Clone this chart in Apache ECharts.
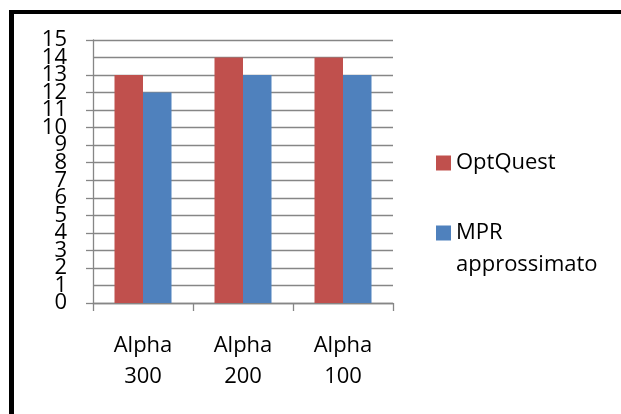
<!DOCTYPE html>
<html>
<head>
<meta charset="utf-8">
<script src="https://cdn.jsdelivr.net/npm/echarts@6/dist/echarts.min.js"></script>
<style>
  html, body { margin: 0; padding: 0; background: #fff; }
  #chart { position: absolute; left: 0; top: 0; width: 621px; height: 414px; }
  #frame { position: absolute; left: 9px; top: 10px; right: 0; bottom: 0;
           border-left: 5px solid #000; border-top: 4px solid #000; pointer-events: none; }
</style>
</head>
<body>
<div id="chart"></div>
<div id="frame"></div>
<script>
const categories = ['Alpha\n300', 'Alpha\n200', 'Alpha\n100'];
const optQuest = [13, 14, 14];
const mprApprossimato = [12, 13, 13];
const seriesNames = ['OptQuest', 'MPR approssimato'];
const yMin = 0, yMax = 15, yStep = 1;

const FONT = '"Open Sans", sans-serif';
const grey = '#868686';
const labelStyle = { fontFamily: FONT, fontSize: 22, color: '#000', margin: 26, lineHeight: 14, hideOverlap: false };

const chart = echarts.init(document.getElementById('chart'));
chart.setOption({
  animation: false,
  backgroundColor: '#fff',
  grid: { left: 93, top: 40, width: 300, height: 263, containLabel: false },
  legend: [
    {
      data: [seriesNames[0]],
      orient: 'vertical', left: 436, top: 152, padding: 0,
      itemWidth: 15, itemHeight: 15, itemGap: 0,
      icon: 'rect',
      textStyle: { fontFamily: FONT, fontSize: 22, color: '#000', lineHeight: 15 }
    },
    {
      data: [seriesNames[1]],
      orient: 'vertical', left: 436, top: 185, padding: 0,
      itemWidth: 15, itemHeight: 15, itemGap: 0,
      icon: 'rect',
      formatter: n => ' \n' + n.replace(' ', '\n'),
      textStyle: { fontFamily: FONT, fontSize: 22, color: '#000', lineHeight: 32 }
    }
  ],
  xAxis: {
    type: 'category',
    data: categories,
    axisLine: { lineStyle: { color: grey, width: 1.3 } },
    axisTick: { show: true, length: 8, lineStyle: { color: grey, width: 1.3 } },
    axisLabel: { fontFamily: FONT, fontSize: 22, color: '#000', lineHeight: 31, margin: 27, interval: 0 }
  },
  yAxis: [
    {
      type: 'value', min: yMin, max: yMax, interval: yStep, position: 'left',
      axisLine: { show: true, lineStyle: { color: grey, width: 1.3 } },
      axisTick: { show: true, length: 7, lineStyle: { color: grey, width: 1.3 } },
      splitLine: { show: true, lineStyle: { color: grey, width: 1.3 } },
      axisLabel: Object.assign({}, labelStyle, { showMinLabel: true, showMaxLabel: true })
    },
    {
      // companion axis: same scale, only re-draws the labels next to min/max
      type: 'value', min: yMin, max: yMax, interval: yStep, position: 'left', offset: 0,
      axisLine: { show: false }, axisTick: { show: false }, splitLine: { show: false },
      axisLabel: Object.assign({}, labelStyle, {
        formatter: v => (v === yMin + yStep || v === yMax - yStep) ? String(v) : ''
      })
    }
  ],
  series: [
    { name: seriesNames[0], type: 'bar', data: optQuest, barWidth: 28.5, barGap: '0%',
      itemStyle: { color: '#C0504D' } },
    { name: seriesNames[1], type: 'bar', data: mprApprossimato, barWidth: 28.5, barGap: '0%',
      itemStyle: { color: '#4F81BD' } }
  ]
});
</script>
</body>
</html>
